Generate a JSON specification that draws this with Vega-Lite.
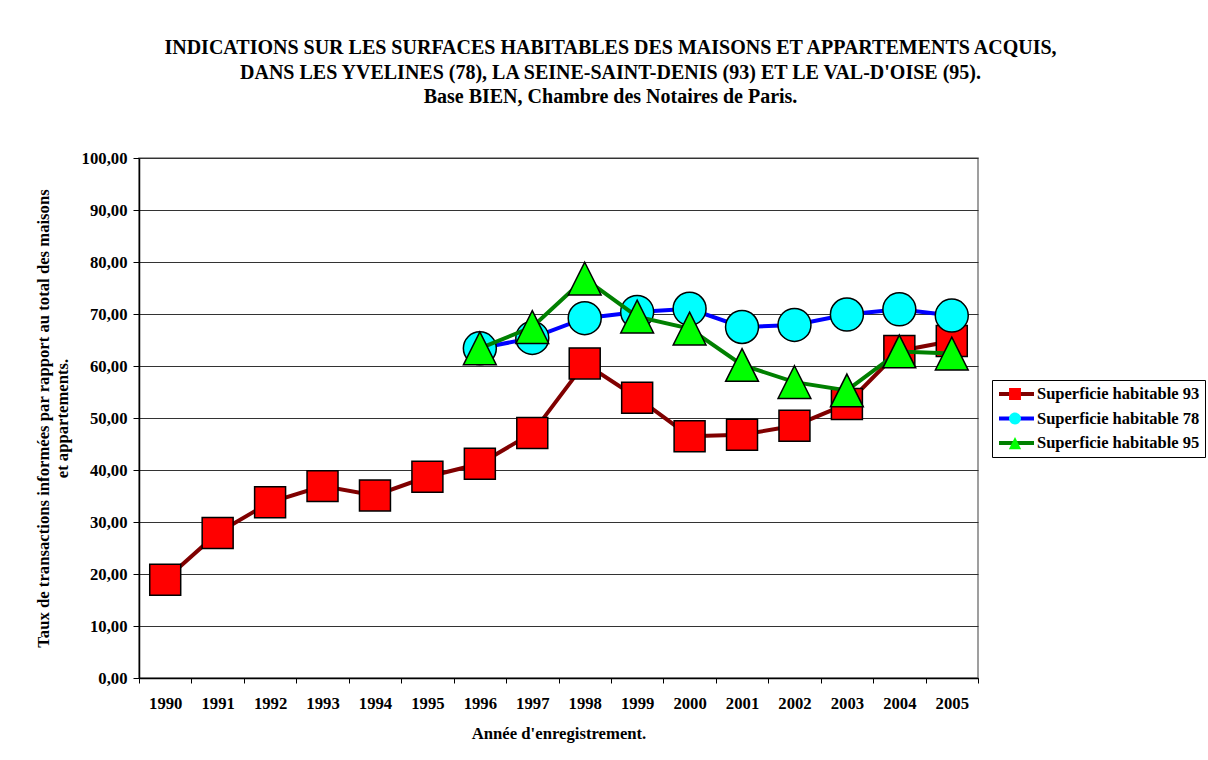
{
  "$schema": "https://vega.github.io/schema/vega-lite/v6.json",
  "width": 839,
  "height": 520,
  "autosize": {"type": "none"},
  "padding": {"left": 139, "top": 158, "right": 231, "bottom": 82},
  "background": "white",
  "title": {
    "text": ["INDICATIONS SUR LES SURFACES HABITABLES DES MAISONS ET APPARTEMENTS ACQUIS,", "DANS LES YVELINES (78), LA SEINE-SAINT-DENIS (93) ET LE VAL-D'OISE (95).", "Base BIEN, Chambre des Notaires de Paris."],
    "font": "Liberation Serif",
    "fontSize": 20,
    "fontWeight": "bold",
    "color": "black",
    "anchor": "middle",
    "dx": 52,
    "lineHeight": 24.5,
    "offset": 43
  },
  "data": {
    "values": [
      {"annee": "1990", "serie": "Superficie habitable 93", "valeur": 18.9},
      {"annee": "1991", "serie": "Superficie habitable 93", "valeur": 27.9},
      {"annee": "1992", "serie": "Superficie habitable 93", "valeur": 33.8},
      {"annee": "1993", "serie": "Superficie habitable 93", "valeur": 36.9},
      {"annee": "1994", "serie": "Superficie habitable 93", "valeur": 35.1},
      {"annee": "1995", "serie": "Superficie habitable 93", "valeur": 38.7},
      {"annee": "1996", "serie": "Superficie habitable 93", "valeur": 41.2},
      {"annee": "1997", "serie": "Superficie habitable 93", "valeur": 47.1},
      {"annee": "1998", "serie": "Superficie habitable 93", "valeur": 60.5},
      {"annee": "1999", "serie": "Superficie habitable 93", "valeur": 53.9},
      {"annee": "2000", "serie": "Superficie habitable 93", "valeur": 46.5},
      {"annee": "2001", "serie": "Superficie habitable 93", "valeur": 46.8},
      {"annee": "2002", "serie": "Superficie habitable 93", "valeur": 48.5},
      {"annee": "2003", "serie": "Superficie habitable 93", "valeur": 52.7},
      {"annee": "2004", "serie": "Superficie habitable 93", "valeur": 62.9},
      {"annee": "2005", "serie": "Superficie habitable 93", "valeur": 64.8},
      {"annee": "1996", "serie": "Superficie habitable 78", "valeur": 63.4},
      {"annee": "1997", "serie": "Superficie habitable 78", "valeur": 65.4},
      {"annee": "1998", "serie": "Superficie habitable 78", "valeur": 69.2},
      {"annee": "1999", "serie": "Superficie habitable 78", "valeur": 70.4},
      {"annee": "2000", "serie": "Superficie habitable 78", "valeur": 71.0},
      {"annee": "2001", "serie": "Superficie habitable 78", "valeur": 67.5},
      {"annee": "2002", "serie": "Superficie habitable 78", "valeur": 67.9},
      {"annee": "2003", "serie": "Superficie habitable 78", "valeur": 69.9},
      {"annee": "2004", "serie": "Superficie habitable 78", "valeur": 70.9},
      {"annee": "2005", "serie": "Superficie habitable 78", "valeur": 69.7},
      {"annee": "1996", "serie": "Superficie habitable 95", "valeur": 63.4},
      {"annee": "1997", "serie": "Superficie habitable 95", "valeur": 67.5},
      {"annee": "1998", "serie": "Superficie habitable 95", "valeur": 76.8},
      {"annee": "1999", "serie": "Superficie habitable 95", "valeur": 69.5},
      {"annee": "2000", "serie": "Superficie habitable 95", "valeur": 67.2},
      {"annee": "2001", "serie": "Superficie habitable 95", "valeur": 60.2},
      {"annee": "2002", "serie": "Superficie habitable 95", "valeur": 56.9},
      {"annee": "2003", "serie": "Superficie habitable 95", "valeur": 55.3},
      {"annee": "2004", "serie": "Superficie habitable 95", "valeur": 62.8},
      {"annee": "2005", "serie": "Superficie habitable 95", "valeur": 62.4}
    ]
  },
  "encoding": {
    "x": {
      "field": "annee",
      "type": "ordinal",
      "scale": {"type": "band", "paddingInner": 0, "paddingOuter": 0, "domain": ["1990","1991","1992","1993","1994","1995","1996","1997","1998","1999","2000","2001","2002","2003","2004","2005"]},
      "axis": {
        "title": "Année d'enregistrement.",
        "titleFont": "Liberation Serif",
        "titleFontSize": 16.7,
        "titleFontWeight": "bold",
        "titleColor": "black",
        "titlePadding": 14,
        "labelFont": "Liberation Serif",
        "labelFontSize": 16.7,
        "labelFontWeight": "bold",
        "labelColor": "black",
        "labelAngle": 0,
        "labelPadding": 12,
        "tickBand": "extent",
        "tickSize": 5,
        "tickColor": "black",
        "domainColor": "black",
        "domainWidth": 1.5,
        "grid": false
      }
    },
    "y": {
      "field": "valeur",
      "type": "quantitative",
      "scale": {"domain": [0, 100], "nice": false},
      "axis": {
        "title": ["Taux de transactions informées par rapport au total des maisons", "et appartements."],
        "titleFont": "Liberation Serif",
        "titleFontSize": 16.7,
        "titleFontWeight": "bold",
        "titleColor": "black",
        "titleLineHeight": 19,
        "titlePadding": 10,
        "labelFont": "Liberation Serif",
        "labelFontSize": 16.7,
        "labelFontWeight": "bold",
        "labelColor": "black",
        "labelPadding": 6,
        "values": [0, 10, 20, 30, 40, 50, 60, 70, 80, 90, 100],
        "labelExpr": "replace(format(datum.value, '.2f'), '.', ',')",
        "tickSize": 6,
        "tickColor": "black",
        "domainColor": "black",
        "domainWidth": 1.5,
        "grid": true,
        "gridColor": "#333333",
        "gridWidth": 1
      }
    }
  },
  "layer": [
    {
      "transform": [{"filter": "datum.serie == 'Superficie habitable 93'"}],
      "mark": {"type": "line", "strokeWidth": 4},
      "encoding": {"stroke": {"field": "serie", "type": "nominal",
        "scale": {"domain": ["Superficie habitable 78", "Superficie habitable 93", "Superficie habitable 95"], "range": ["#0000FF", "#800000", "#008000"]},
        "legend": {"orient": "none", "legendX": 853, "legendY": 222, "title": null, "values": ["Superficie habitable 93", "Superficie habitable 78", "Superficie habitable 95"], "symbolType": "stroke", "symbolSize": 1225, "symbolStrokeWidth": 4, "labelExpr": "''", "clipHeight": 18, "rowPadding": 6.5, "padding": 5, "labelFont": "Liberation Serif", "labelFontSize": 16.5, "labelFontWeight": "bold", "labelOffset": 4, "zindex": 0}}}
    },
    {
      "transform": [{"filter": "datum.serie == 'Superficie habitable 93'"}],
      "mark": {"type": "point", "filled": true, "opacity": 1, "stroke": "black", "strokeWidth": 1.5, "size": 8300},
      "encoding": {
        "fill": {"field": "serie", "type": "nominal",
          "scale": {"domain": ["Superficie habitable 93", "Superficie habitable 78", "Superficie habitable 95"], "range": ["#FF0000", "#00FFFF", "#00FF00"]},
          "legend": {"orient": "none", "legendX": 853, "legendY": 222, "title": null, "symbolSize": 1225, "symbolStrokeColor": "black", "symbolStrokeWidth": 1, "strokeColor": "black", "clipHeight": 18, "rowPadding": 6.5, "padding": 5, "labelFont": "Liberation Serif", "labelFontSize": 16.5, "labelFontWeight": "bold", "labelColor": "black", "labelOffset": 4, "labelLimit": 400, "zindex": 1}},
        "shape": {"field": "serie", "type": "nominal",
          "scale": {"domain": ["Superficie habitable 93", "Superficie habitable 78", "Superficie habitable 95"], "range": ["M-0.34,-0.34H0.34V0.34H-0.34Z", "M0.34,0A0.34,0.34,0,1,1,-0.34,0A0.34,0.34,0,1,1,0.34,0Z", "M0,-0.35L0.35,0.35L-0.35,0.35Z"]},
          "legend": {"orient": "none", "legendX": 853, "legendY": 222, "title": null, "symbolSize": 1225, "symbolStrokeColor": "black", "symbolStrokeWidth": 1, "strokeColor": "black", "clipHeight": 18, "rowPadding": 6.5, "padding": 5, "labelFont": "Liberation Serif", "labelFontSize": 16.5, "labelFontWeight": "bold", "labelColor": "black", "labelOffset": 4, "labelLimit": 400, "zindex": 1}}
      }
    },
    {
      "transform": [{"filter": "datum.serie == 'Superficie habitable 78'"}],
      "mark": {"type": "line", "strokeWidth": 4},
      "encoding": {"stroke": {"field": "serie", "type": "nominal"}}
    },
    {
      "transform": [{"filter": "datum.serie == 'Superficie habitable 78'"}],
      "mark": {"type": "point", "filled": true, "opacity": 1, "stroke": "black", "strokeWidth": 1.5, "size": 9400},
      "encoding": {"fill": {"field": "serie", "type": "nominal"}, "shape": {"field": "serie", "type": "nominal"}}
    },
    {
      "transform": [{"filter": "datum.serie == 'Superficie habitable 95'"}],
      "mark": {"type": "line", "strokeWidth": 4},
      "encoding": {"stroke": {"field": "serie", "type": "nominal"}}
    },
    {
      "transform": [{"filter": "datum.serie == 'Superficie habitable 95'"}],
      "mark": {"type": "point", "filled": true, "opacity": 1, "stroke": "black", "strokeWidth": 1.5, "size": 8780},
      "encoding": {"fill": {"field": "serie", "type": "nominal"}, "shape": {"field": "serie", "type": "nominal"}}
    }
  ],
  "config": {
    "view": {"stroke": "#808080", "strokeWidth": 1.5},
    "font": "Liberation Serif"
  }
}
